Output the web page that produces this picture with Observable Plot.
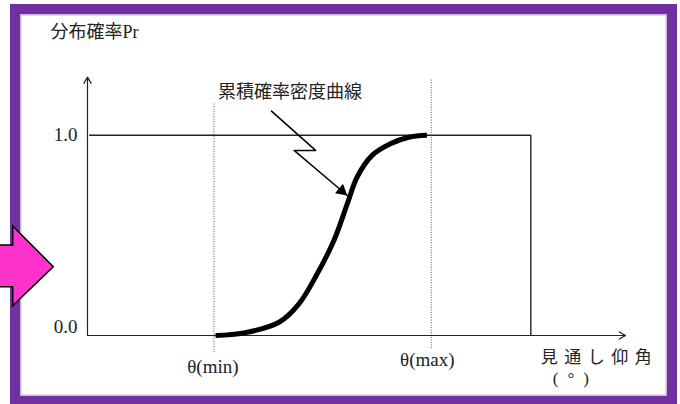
<!DOCTYPE html>
<html>
<head>
<meta charset="utf-8">
<script src="https://cdn.jsdelivr.net/npm/d3@7"></script>
<script src="https://cdn.jsdelivr.net/npm/@observablehq/plot@0.6"></script>
<style>
  html, body { margin: 0; padding: 0; background: #fff; }
  #wrap { position: relative; width: 680px; height: 404px; overflow: hidden; background: #fff; }
  #frame { position: absolute; left: 10px; top: 4px; width: 667px; height: 402px; box-sizing: border-box;
           border: 10.5px solid #7030a0; box-shadow: inset 0 0 0 1.5px #c9b6de; }
  #chart { position: absolute; left: 0; top: 0; }
</style>
</head>
<body>
<div id="wrap"><div id="frame"></div><div id="chart"></div></div>
<script>
// ---- data (abstract units: elevation angle axis 0..10, probability 0..1) ----
const curveX = [2.38, 2.91, 3.56, 3.93, 4.27, 4.58, 4.83, 5.01, 5.29, 5.63, 5.97, 6.31];
const curveY = [0.000, 0.013, 0.066, 0.158, 0.308, 0.474, 0.658, 0.790, 0.899, 0.957, 0.990, 1.000];
const thetaMin = 2.35;
const thetaMax = 6.39;
const boxRight = 8.24;
const axisXEnd = 10;
const axisYEnd = 1.29;
const yTickLabels = ["0.0", "1.0"];
const yTickValues = [0, 1];
const xLabelMin = "θ(min)";
const xLabelMax = "θ(max)";
const yTitle = "分布確率Pr";
const xTitle = "見通し仰角";
const xUnit = "(°)";
const curveLabel = "累積確率密度曲線";
const calloutX = [3.42, 4.24, 3.84, 4.83];
const calloutY = [1.12, 0.924, 0.924, 0.699];

const curve = curveX.map((x, i) => ({x, y: curveY[i]}));
const callout = calloutX.map((x, i) => ({x, y: calloutY[i]}));
const tip = callout[callout.length - 1];

const serif = "'Liberation Serif', 'Noto Sans CJK JP', serif";
const cjk = "'Noto Sans CJK JP', 'Liberation Serif', sans-serif";

const chart = Plot.plot({
  width: 680,
  height: 404,
  marginLeft: 87,
  marginRight: 55,
  marginTop: 74.6,
  marginBottom: 69,
  x: {domain: [0, 10], axis: null},
  y: {domain: [0, 1.3], axis: null},
  style: {background: "transparent", overflow: "visible"},
  marks: [
    // reference lines at Pr = 1.0 and the right edge
    Plot.ruleY([1], {x1: 0.04, x2: boxRight, stroke: "#222", strokeWidth: 1.4}),
    Plot.ruleX([boxRight], {y1: 0, y2: 1, stroke: "#222", strokeWidth: 1.4}),
    // dotted theta lines
    Plot.ruleX([thetaMin], {y1: -0.085, y2: 1.158, stroke: "#555", strokeWidth: 1, strokeDasharray: "1,1.5"}),
    Plot.ruleX([thetaMax], {y1: -0.065, y2: 1.283, stroke: "#555", strokeWidth: 1, strokeDasharray: "1,1.5"}),
    // axes with arrows
    Plot.arrow([{x1: 0, y1: 0, x2: axisXEnd, y2: 0}], {x1: "x1", y1: "y1", x2: "x2", y2: "y2", stroke: "#222", strokeWidth: 1.2, headLength: 9, bend: 0}),
    Plot.arrow([{x1: 0, y1: 0, x2: 0, y2: axisYEnd}], {x1: "x1", y1: "y1", x2: "x2", y2: "y2", stroke: "#222", strokeWidth: 1.2, headLength: 9, bend: 0}),
    // cumulative curve
    Plot.line(curve, {x: "x", y: "y", stroke: "#000", strokeWidth: 5, curve: "catmull-rom", strokeLinecap: "butt"}),
    // lightning callout
    Plot.line(callout, {x: "x", y: "y", stroke: "#000", strokeWidth: 1.5}),
    Plot.dot([tip], {x: "x", y: "y", symbol: "triangle", r: 4.6, fill: "#000", stroke: "none", rotate: 130, dx: -5.6, dy: -4.7}),
    // tick labels
    Plot.text([yTickValues[1]], {x: 0, y: d => d, text: () => yTickLabels[1], dx: -10, textAnchor: "end", fontFamily: serif, fontSize: 19, fill: "#222"}),
    Plot.text([yTickValues[0]], {x: 0, y: d => d, text: () => yTickLabels[0], dx: -10, dy: -9, textAnchor: "end", fontFamily: serif, fontSize: 19, fill: "#222"}),
    Plot.text([thetaMin], {x: d => d, y: 0, text: () => xLabelMin, dx: -1, dy: 31, fontFamily: serif, fontSize: 19, fill: "#222"}),
    Plot.text([thetaMax], {x: d => d, y: 0, text: () => xLabelMax, dx: -4, dy: 24, fontFamily: serif, fontSize: 19, fill: "#222"}),
    // titles
    Plot.text([yTitle], {x: 0, y: axisYEnd, text: d => d, dx: -37, dy: -45, textAnchor: "start", fontFamily: serif, fontSize: 18, fill: "#222"}),
    Plot.text([xTitle], {x: boxRight, y: 0, text: d => d, dx: 10, dy: 22, textAnchor: "start", fontFamily: cjk, fontSize: 17, fill: "#222"}),
    Plot.text([xUnit], {x: boxRight, y: 0, text: d => d, dx: 22, dy: 43, textAnchor: "start", fontFamily: serif, fontSize: 17, fill: "#222"}),
    Plot.text([curveLabel], {x: thetaMin, y: 1, text: d => d, dx: 4, dy: -43, textAnchor: "start", fontFamily: cjk, fontSize: 18, fill: "#222"})
  ]
});
document.getElementById("chart").appendChild(chart);

// spaced-out axis title and unit, as in the original slide
d3.select(chart).selectAll("text")
  .filter(function () { return this.textContent === xTitle; })
  .style("letter-spacing", "6.5px");
d3.select(chart).selectAll("text")
  .filter(function () { return this.textContent === xUnit; })
  .style("letter-spacing", "9px");

// decorative pink arrow on the left edge of the slide frame
d3.select(chart).append("polygon")
  .attr("points", [[-2, 245], [12.7, 245], [12.7, 226], [53.3, 266.7], [12.7, 305.7], [12.7, 286.7], [-2, 286.7]].map(p => p.join(",")).join(" "))
  .attr("fill", "#ff33cc")
  .attr("stroke", "#000")
  .attr("stroke-width", 1.5);
</script>
</body>
</html>
